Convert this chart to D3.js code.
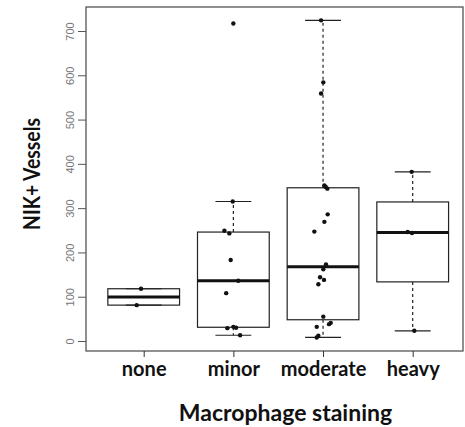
<!DOCTYPE html>
<html>
<head>
<meta charset="utf-8">
<script src="https://cdn.jsdelivr.net/npm/d3@7"></script>
<style>
  html, body { margin: 0; padding: 0; background: #fff; }
  svg { display: block; }
</style>
</head>
<body>
<svg id="chart" width="465" height="427"></svg>
<script>
// ---------- data ----------
const categories = ["none", "minor", "moderate", "heavy"];
const noneValues     = [118, 81];
const minorValues    = [717, 315, 249, 243, 183, 136, 108, 32, 30, 29, 13];
const moderateValues = [724, 584, 559, 351, 348, 344, 286, 269, 247, 173, 162, 144, 138, 128, 55, 41, 38, 32, 12, 8];
const heavyValues    = [382, 246, 244, 23];
// horizontal jitter of each point, in category units
const noneJitter     = [-0.03, -0.078];
const minorJitter    = [0, -0.007, -0.1, -0.045, -0.03, 0.055, -0.08, 0, 0.03, -0.067, 0.075];
const moderateJitter = [-0.022, 0.003, -0.022, 0.015, 0.03, 0.048, 0.052, 0.015, -0.097, 0.033, 0.003, -0.033, 0.011, -0.052, 0.003, 0.086, 0.067, -0.07, -0.052, -0.07];
const heavyJitter    = [-0.011, -0.056, -0.008, 0.018];
const yTicks = [0, 100, 200, 300, 400, 500, 600, 700];
const xTitle = "Macrophage staining";
const yTitle = "NIK+ Vessels";

const groups = [
  { cat: "none", values: noneValues, jitter: noneJitter },
  { cat: "minor", values: minorValues, jitter: minorJitter },
  { cat: "moderate", values: moderateValues, jitter: moderateJitter },
  { cat: "heavy", values: heavyValues, jitter: heavyJitter }
];

// ---------- R-style boxplot statistics ----------
function fivenum(arr) {
  const x = arr.slice().sort((a, b) => a - b);
  const n = x.length;
  const n4 = Math.floor((n + 3) / 2) / 2;
  const d = [1, n4, (n + 1) / 2, n + 1 - n4, n];
  return d.map(v => 0.5 * (x[Math.floor(v) - 1] + x[Math.ceil(v) - 1]));
}
function boxStats(arr) {
  const f = fivenum(arr);
  const iqr = f[3] - f[1];
  const lo = f[1] - 1.5 * iqr, hi = f[3] + 1.5 * iqr;
  const inside = arr.filter(v => v >= lo && v <= hi);
  return { q1: f[1], med: f[2], q3: f[3], wlo: d3.min(inside), whi: d3.max(inside) };
}

// ---------- layout ----------
const svg = d3.select("#chart");
const frame = { left: 86, right: 463, top: 7, bottom: 351 };

const x = d3.scalePoint().domain(categories).range([143.7, 412.7]);
const step = x.step();
const y = d3.scaleLinear().domain([0, 700]).range([341, 31]);

const boxW = 0.8 * step;
const stapleW = 0.5 * boxW;

// frame
svg.append("rect")
  .attr("x", frame.left).attr("y", frame.top)
  .attr("width", frame.right - frame.left).attr("height", frame.bottom - frame.top)
  .attr("fill", "none").attr("stroke", "#555").attr("stroke-width", 1.3);

// y axis
const yAxis = d3.axisLeft(y).tickValues(yTicks).tickSize(8).tickPadding(0).tickFormat(d3.format("d"));
const gy = svg.append("g").attr("transform", `translate(${frame.left},0)`).call(yAxis);
gy.select(".domain").remove();
gy.selectAll(".tick line").attr("stroke", "#555");
gy.selectAll(".tick text")
  .attr("transform", "translate(-12,0) rotate(-90)")
  .attr("x", 0).attr("y", 0).attr("dy", 0)
  .attr("text-anchor", "middle")
  .attr("fill", "#777")
  .style("font-family", "Liberation Sans, Arial, sans-serif")
  .style("font-size", "11px");

// x axis
const xAxis = d3.axisBottom(x).tickSize(6).tickPadding(5);
const gx = svg.append("g").attr("transform", `translate(0,${frame.bottom})`).call(xAxis);
gx.select(".domain").remove();
gx.selectAll(".tick line").attr("stroke", "#333");
gx.selectAll(".tick text")
  .attr("y", 25).attr("dy", 0)
  .attr("fill", "#111")
  .style("font-family", "Lato, sans-serif")
  .style("font-weight", "bold")
  .style("font-size", "20px");

// boxes
groups.forEach(g => {
  const s = boxStats(g.values);
  const cx = x(g.cat);
  const gg = svg.append("g");
  gg.append("line").attr("x1", cx).attr("x2", cx).attr("y1", y(s.q3)).attr("y2", y(s.whi))
    .attr("stroke", "#222").attr("stroke-width", 1.2).attr("stroke-dasharray", "3,3");
  gg.append("line").attr("x1", cx).attr("x2", cx).attr("y1", y(s.q1)).attr("y2", y(s.wlo))
    .attr("stroke", "#222").attr("stroke-width", 1.2).attr("stroke-dasharray", "3,3");
  [s.whi, s.wlo].forEach(v => {
    gg.append("line").attr("x1", cx - stapleW / 2).attr("x2", cx + stapleW / 2)
      .attr("y1", y(v)).attr("y2", y(v)).attr("stroke", "#222").attr("stroke-width", 1.2);
  });
  gg.append("rect").attr("x", cx - boxW / 2).attr("width", boxW)
    .attr("y", y(s.q3)).attr("height", y(s.q1) - y(s.q3))
    .attr("fill", "none").attr("stroke", "#222").attr("stroke-width", 1.2);
  gg.append("line").attr("x1", cx - boxW / 2).attr("x2", cx + boxW / 2)
    .attr("y1", y(s.med)).attr("y2", y(s.med)).attr("stroke", "#111").attr("stroke-width", 3);
});

// points
groups.forEach(g => {
  svg.append("g").selectAll("circle").data(g.values.map((v, i) => ({ v, j: g.jitter[i] })))
    .join("circle")
    .attr("cx", d => x(g.cat) + d.j * step)
    .attr("cy", d => y(d.v))
    .attr("r", 2.2)
    .attr("fill", "#111");
});

// axis titles
svg.append("text")
  .attr("x", 285.5).attr("y", 421)
  .attr("text-anchor", "middle")
  .style("font-family", "Lato, sans-serif").style("font-weight", "bold").style("font-size", "23px")
  .attr("fill", "#111")
  .text(xTitle);

svg.append("text")
  .attr("transform", `translate(40,174) rotate(-90)`)
  .attr("text-anchor", "middle")
  .attr("textLength", 112).attr("lengthAdjust", "spacingAndGlyphs")
  .style("font-family", "Lato, sans-serif").style("font-weight", "bold").style("font-size", "22px")
  .attr("fill", "#111")
  .text(yTitle);
</script>
</body>
</html>
